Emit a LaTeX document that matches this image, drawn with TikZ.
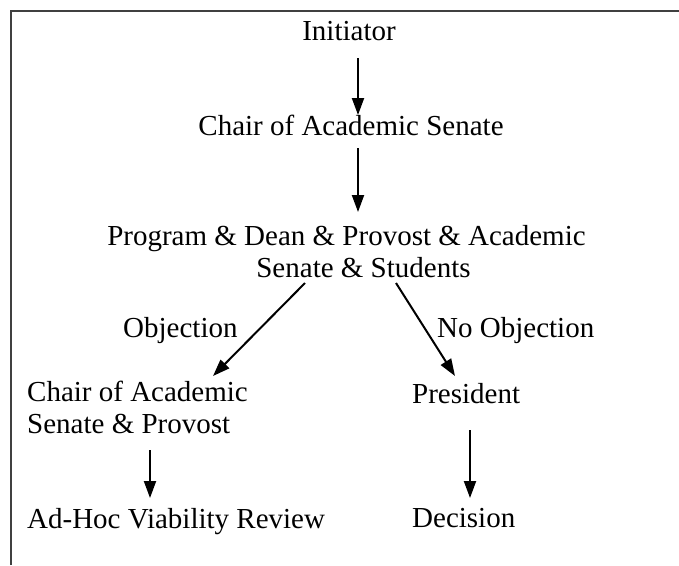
\documentclass[tikz,border=0pt]{standalone}
\usepackage{fontspec}
\setmainfont{Liberation Serif}
\usetikzlibrary{arrows.meta}
\begin{document}
\begin{tikzpicture}[x=1pt,y=1pt,
  lbl/.style={inner sep=0pt, font=\fontsize{29}{31.5}\selectfont},
  flow/.style={line width=2pt, -{Triangle[length=17pt,width=12pt]}},
  frame/.style={line width=1.5pt, draw=black!75}]
\useasboundingbox (0,0) rectangle (679,-565);
\draw[frame] (11,-565) -- (11,-11) -- (679,-11);
\node[lbl, anchor=base] (init) at (349,-40) {Initiator};
\node[lbl, anchor=base] (chair) at (351,-135) {Chair of Academic Senate};
\node[lbl, anchor=base, align=center] (prog) at (346.5,-277) {Program \& Dean \& Provost \& Academic\\\hspace*{34pt}Senate \& Students};
\node[lbl, anchor=base west] (obj) at (123,-337) {Objection};
\node[lbl, anchor=base west] (noobj) at (437,-337) {No Objection};
\node[lbl, anchor=base west, align=left] (cap) at (27,-433) {Chair of Academic\\Senate \& Provost};
\node[lbl, anchor=base west] (pres) at (412,-403) {President};
\node[lbl, anchor=base west] (adhoc) at (27,-528) {Ad-Hoc Viability Review};
\node[lbl, anchor=base west] (dec) at (412,-527) {Decision};
\draw[flow] ([xshift=9pt,yshift=-18pt]init.base) -- ([xshift=7pt,yshift=20pt]chair.base);
\draw[flow] ([xshift=7pt,yshift=-13pt]chair.base) -- ([xshift=11.5pt,yshift=65pt]prog.base);
\draw[flow] ([xshift=-41.5pt,yshift=-6pt]prog.base) -- ([xshift=186pt,yshift=57pt]cap.base west);
\draw[flow] ([xshift=49.5pt,yshift=-6pt]prog.base) -- ([xshift=43pt,yshift=27pt]pres.base west);
\draw[flow] ([xshift=123pt,yshift=-17pt]cap.base west) -- ([xshift=123pt,yshift=30pt]adhoc.base west);
\draw[flow] ([xshift=58pt,yshift=-27pt]pres.base west) -- ([xshift=58pt,yshift=29pt]dec.base west);
\end{tikzpicture}
\end{document}
